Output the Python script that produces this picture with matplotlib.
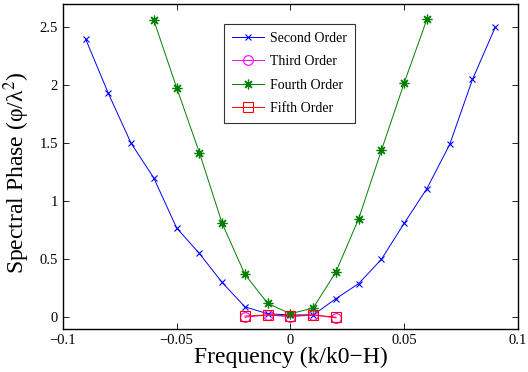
import matplotlib
matplotlib.use("Agg")
import matplotlib.pyplot as plt

x2 = [-0.09, -0.08, -0.07, -0.06, -0.05, -0.04, -0.03, -0.02, -0.01, 0.0,
      0.01, 0.02, 0.03, 0.04, 0.05, 0.06, 0.07, 0.08, 0.09]
second = [2.40, 1.93, 1.50, 1.20, 0.77, 0.55, 0.30, 0.09, 0.03, 0.02,
          0.02, 0.16, 0.29, 0.50, 0.81, 1.11, 1.49, 2.05, 2.50]
x3 = [-0.02, -0.01, 0.0, 0.01, 0.02]
third = [0.00, 0.02, 0.005, 0.02, -0.005]
x4 = [-0.06, -0.05, -0.04, -0.03, -0.02, -0.01, 0.0, 0.01, 0.02, 0.03, 0.04, 0.05, 0.06]
fourth = [2.56, 1.98, 1.42, 0.81, 0.37, 0.12, 0.03, 0.08, 0.39, 0.85, 1.44, 2.02, 2.57]
x5 = [-0.02, -0.01, 0.0, 0.01, 0.02]
fifth = [0.01, 0.02, 0.01, 0.02, 0.00]
xticks = [-0.1, -0.05, 0, 0.05, 0.1]
xticklabels = ["\u22120.1", "\u22120.05", "0", "0.05", "0.1"]
yticks = [0, 0.5, 1, 1.5, 2, 2.5]
yticklabels = ["0", "0.5", "1", "1.5", "2", "2.5"]

plt.rcParams['font.family'] = ['Liberation Serif', 'DejaVu Serif']
plt.rcParams['mathtext.fontset'] = 'stix'

fig = plt.figure(figsize=(5.28, 3.72), dpi=100)
ax = fig.add_axes([0.119, 0.116, 0.862, 0.873])

lw = 0.7
ax.plot(x2, second, color='#0000ff', marker='x', ms=5, mew=0.8, lw=lw, label='Second Order')
ax.plot(x3, third, color='#ff00ff', marker='o', ms=7, mfc='none', mew=0.8, lw=lw, label='Third Order')
ax.plot(x4, fourth, color='#008000', marker=(8, 2, 0), ms=7, mew=0.9, lw=lw, label='Fourth Order')
ax.plot(x5, fifth, color='#ff0000', marker='s', ms=7, mfc='none', mew=0.8, lw=lw, label='Fifth Order')

ax.set_xlim(-0.1, 0.1)
ax.set_ylim(-0.1, 2.7)
ax.set_xticks(xticks)
ax.set_xticklabels(xticklabels)
ax.set_yticks(yticks)
ax.set_yticklabels(yticklabels)
ax.tick_params(direction='in', top=True, right=True, labelsize=10.5, length=4, width=0.6)
for s in ax.spines.values():
    s.set_linewidth(1.0)

ax.set_xlabel('Frequency (k/k0\u2212H)', fontsize=17, labelpad=0)
ax.set_ylabel('Spectral Phase (\u03c6/\u03bb$^2$)', fontsize=17)
ax.yaxis.set_label_coords(-0.068, 0.48)

leg = ax.legend(loc='upper left', bbox_to_anchor=(0.354, 0.938), fontsize=10,
                frameon=True, fancybox=False, edgecolor='black', borderaxespad=0,
                handlelength=2.3, handletextpad=0.5, labelspacing=0.75, borderpad=0.55)
leg.get_frame().set_linewidth(0.8)

fig.savefig('out.png', dpi=100)
